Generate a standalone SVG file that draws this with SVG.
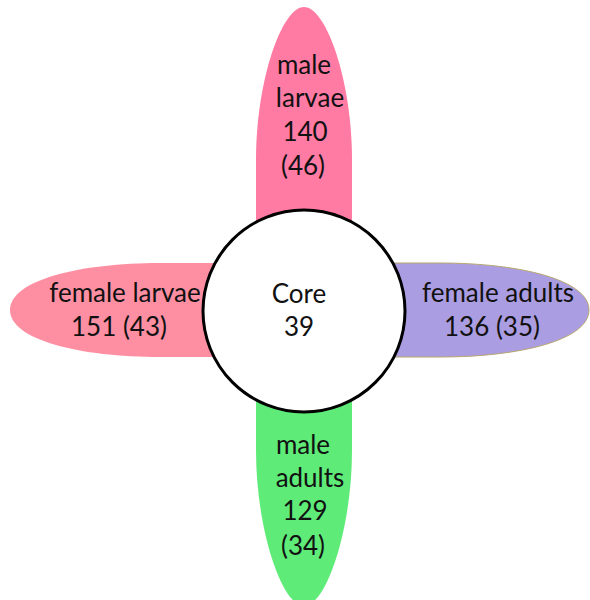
<svg xmlns="http://www.w3.org/2000/svg" width="590" height="600" viewBox="0 0 590 600">
<style>
.lbl{font-family:Lato,"Open Sans","Liberation Sans",sans-serif;font-size:26px;fill:#111;text-anchor:middle}
</style>
<rect width="590" height="600" fill="#fff"/>
<g id="male-larvae">
<path d="M304,7 C326,7 352,80 352,160 L352,240 L256,240 L256,160 C256,80 282,7 304,7 Z" fill="#ff7ba3"/>
<text class="lbl" x="304" y="74">male</text>
<text class="lbl" x="310" y="107">larvae</text>
<text class="lbl" x="305" y="141">140</text>
<text class="lbl" x="303" y="175">(46)</text>
</g>
<g id="female-larvae">
<path d="M10,310 C10,280 80,263 160,263 L250,263 L250,357 L160,357 C80,357 10,340 10,310 Z" fill="#fe8fa3"/>
<text class="lbl" x="125" y="302">female larvae</text>
<text class="lbl" x="119" y="336">151 (43)</text>
</g>
<g id="female-adults">
<path d="M589,310 C589,280 520,263 440,263 L370,263 L370,357 L440,357 C520,357 589,340 589,310 Z" fill="#ab9de1" stroke="#b8a870" stroke-width="1"/>
<text class="lbl" x="498" y="302">female adults</text>
<text class="lbl" x="492" y="336">136 (35)</text>
</g>
<g id="male-adults">
<path d="M304,606 C282,606 256,530 256,450 L256,380 L352,380 L352,450 C352,530 326,606 304,606 Z" fill="#5eeb78"/>
<text class="lbl" x="303" y="454">male</text>
<text class="lbl" x="310" y="487">adults</text>
<text class="lbl" x="305" y="520">129</text>
<text class="lbl" x="303" y="555">(34)</text>
</g>
<g id="core">
<circle cx="304" cy="311" r="101" fill="#fff" stroke="#000" stroke-width="3"/>
<text class="lbl" x="299" y="303">Core</text>
<text class="lbl" x="299" y="336">39</text>
</g>
<g id="connectors"></g>
</svg>
